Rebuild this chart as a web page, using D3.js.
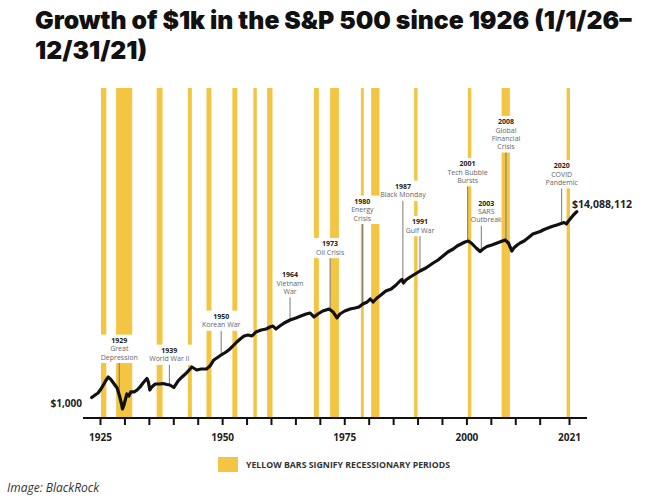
<!DOCTYPE html>
<html>
<head>
<meta charset="utf-8">
<script src="https://cdn.jsdelivr.net/npm/d3@7"></script>
<style>
  body { margin: 0; background: #fff; }
  svg { display: block; }
</style>
</head>
<body>
<svg id="chart"></svg>
<script>
// Growth of $1k in the S&P 500 (log scale)
const years = [
  1923.3, 1924.0, 1924.6, 1925.2, 1925.8, 1926.2, 1926.7, 1927.3, 1927.9, 1928.5,
  1929.0, 1929.4, 1929.6, 1929.9, 1930.5, 1930.9, 1931.3, 1932.0, 1932.6, 1933.2,
  1933.8, 1934.6, 1934.9, 1935.2, 1935.6, 1936.3, 1937.1, 1937.9, 1938.7, 1939.3,
  1940.1, 1941.0, 1941.8, 1942.7, 1943.8, 1944.8, 1945.7, 1946.8, 1947.5, 1948.3,
  1949.2, 1949.8, 1950.8, 1951.6, 1952.4, 1953.0, 1953.7, 1954.5, 1955.3, 1956.1,
  1956.9, 1958.0, 1959.0, 1959.8, 1960.4, 1961.0, 1961.8, 1962.7, 1963.9, 1965.1,
  1966.1, 1967.2, 1968.0, 1968.8, 1969.6, 1970.6, 1971.9, 1972.7, 1973.5, 1974.1,
  1975.1, 1976.2, 1977.2, 1978.0, 1978.8, 1979.7, 1980.3, 1980.9, 1981.7, 1982.5,
  1983.5, 1984.6, 1985.6, 1986.4, 1986.8, 1987.1, 1987.6, 1988.5, 1989.5, 1990.5,
  1991.7, 1993.2, 1994.2, 1995.2, 1996.2, 1997.3, 1998.1, 1998.9, 1999.7, 2000.4,
  2001.1, 2002.0, 2002.8, 2003.4, 2004.2, 2005.2, 2006.3, 2007.1, 2007.9, 2008.6,
  2009.3, 2009.7, 2010.4, 2011.0, 2011.8, 2012.6, 2013.6, 2014.5, 2015.1, 2015.9,
  2016.7, 2017.5, 2018.5, 2019.4, 2020.0, 2020.5, 2020.9, 2021.4, 2022.0, 2022.6,
];
const values = [
  1000, 1137, 1260, 1548, 2000, 2400, 2870, 2460, 2000, 1630,
  1080, 716, 554, 680, 1200, 1080, 1330, 1330, 1470, 1720,
  2110, 2660, 2220, 1470, 1720, 2000, 2000, 2050, 1950, 1900,
  1670, 2340, 2870, 3520, 4800, 4110, 4330, 4330, 5050, 6880,
  8030, 8890, 10380, 12110, 14870, 17350, 20250, 23620, 24860, 23620,
  29010, 32160, 33850, 37520, 39500, 33850, 39500, 46090, 53790, 59600,
  66050, 73190, 77060, 62770, 73190, 85420, 94670, 81140, 59600, 73190,
  85420, 94670, 99660, 104900, 122400, 135700, 158300, 135700, 166700, 194500,
  238800, 264800, 325200, 399300, 431400, 360500, 420500, 490700, 572500, 667900,
  779300, 1008000, 1176000, 1444000, 1774000, 2070000, 2415000, 2677000, 2967000, 3123000,
  2747000, 2179000, 1821000, 2070000, 2354000, 2543000, 2818000, 3045000, 3289000, 2818000,
  1867000, 2179000, 2543000, 2818000, 3123000, 3644000, 4477000, 4836000, 5091000, 5641000,
  6094000, 6583000, 7111000, 7682000, 8088000, 7487000, 8735000, 10190000, 12200000, 14088112,
];

// recessions (yellow bars)
const recessionStarts = [1925.2, 1928.3, 1936.6, 1943.0, 1946.8, 1952.1, 1956.4, 1959.2, 1968.8, 1972.1, 1978.4, 1980.5, 1989.3, 2000.3, 2007.2, 2020.5];
const recessionEnds = [1926.3, 1931.6, 1937.8, 1943.8, 1947.8, 1953.1, 1957.1, 1960.3, 1969.8, 1973.9, 1979.0, 1982.2, 1990.0, 2001.0, 2008.9, 2021.2];

// events
const eventYears = [1928.95, 1939.2, 1949.8, 1963.9, 1972.1, 1978.7, 1987.0, 1990.5, 2000.25, 2003.05, 2008.1, 2019.5];
const eventTexts = [
  ['1929', 'Great', 'Depression'],
  ['1939', 'World War II'],
  ['1950', 'Korean War'],
  ['1964', 'Vietnam', 'War'],
  ['1973', 'Oil Crisis'],
  ['1980', 'Energy', 'Crisis'],
  ['1987', 'Black Monday'],
  ['1991', 'Gulf War'],
  ['2001', 'Tech Bubble', 'Bursts'],
  ['2003', 'SARS', 'Outbreak'],
  ['2008', 'Global', 'Financial', 'Crisis'],
  ['2020', 'COVID', 'Pandemic'],
];

const tickYears = [1925, 1930, 1935, 1940, 1945, 1950, 1955, 1960, 1965, 1970, 1975, 1980, 1985, 1990, 1995, 2000, 2005, 2010, 2015, 2021];
const tickLabels = ['1925', '1950', '1975', '2000', '2021'];

const titleLines = ['Growth of $1k in the S&P 500 since 1926 (1/1/26\u2013', '12/31/21)'];
const startLabel = '$1,000';
const endLabel = '$14,088,112';
const legendText = 'YELLOW BARS SIGNIFY RECESSIONARY PERIODS';
const creditText = 'Image: BlackRock';

// layout
const width = 648;
const height = 500;
const axisY = 418;
const barTop = 88;
const yellow = '#F4C542';
const labelFont = "'Open Sans', 'Noto Sans', sans-serif";
const titleFont = "Inter, Lato, Roboto, sans-serif";
const labelTopY = [340.7, 350.7, 316.7, 275, 244, 201.7, 186.7, 222, 164, 203.3, 122, 166];
const labelShift = [0, 0, 0, 0, 0, 0, 0, 0, 0, 5, 0, 0];
const lineGap = 8.2;

const svg = d3.select('#chart').attr('width', width).attr('height', height);
svg.selectAll('*').remove();
svg.append('rect').attr('width', width).attr('height', height).attr('fill', '#fff');

const x = d3.scaleLinear().domain([1925, 2021]).range([100, 569]);
const y = d3.scaleLog().domain([values[0], values[values.length - 1]]).range([397.5, 211.7]);

const data = years.map((yr, i) => ({ year: yr, value: values[i] }));

// value on the curve at a given year (log interpolation)
const bisect = d3.bisector((d) => d.year).left;
const valueAt = (yr) => {
  const i = Math.max(1, Math.min(data.length - 1, bisect(data, yr)));
  const a = data[i - 1];
  const b = data[i];
  const t = (yr - a.year) / (b.year - a.year);
  return Math.exp(Math.log(a.value) + t * (Math.log(b.value) - Math.log(a.value)));
};

// Title, scaled to fit the reference width
const title = svg.append('text')
  .attr('font-family', titleFont)
  .attr('font-weight', 900)
  .attr('font-size', 22)
  .attr('fill', '#111');
title.append('tspan').attr('x', 35).attr('y', 29).text(titleLines[0]);
title.append('tspan').attr('x', 35).attr('y', 59).text(titleLines[1]);
const tw = title.select('tspan').node().getComputedTextLength();
title.attr('font-size', (22 * 597) / tw);

// layer order
const barGroup = svg.append('g');
const leaderGroup = svg.append('g');
const lineGroup = svg.append('g');
const labelGroup = svg.append('g');

// Event labels first, so their boxes can cut the bars
const boxes = [];
eventTexts.forEach((lines, i) => {
  const cx = x(eventYears[i]) + labelShift[i];
  const t = labelGroup.append('text')
    .attr('text-anchor', 'middle')
    .attr('font-family', labelFont)
    .attr('font-size', 7);
  lines.forEach((s, j) => {
    t.append('tspan')
      .attr('x', cx)
      .attr('y', labelTopY[i] + j * lineGap)
      .attr('dy', '0.35em')
      .attr('font-weight', j === 0 ? 700 : 400)
      .attr('fill', j === 0 ? '#222' : '#666')
      .text(s);
  });
  const bb = t.node().getBBox();
  boxes.push(bb);

  // leader line down to the curve
  leaderGroup.append('line')
    .attr('x1', x(eventYears[i]))
    .attr('x2', x(eventYears[i]))
    .attr('y1', bb.y + bb.height + 1.5)
    .attr('y2', y(valueAt(eventYears[i])))
    .attr('stroke', '#7a7a7a')
    .attr('stroke-width', 1);
});

// Recession bars, broken where a label crosses them
recessionStarts.forEach((s, i) => {
  const x0 = x(s);
  const x1 = x(recessionEnds[i]);
  const gaps = boxes
    .filter((b) => b.x < x1 - 1 && b.x + b.width > x0 + 1)
    .map((b) => [b.y - 1.5, b.y + b.height + 1.5])
    .sort((a, b) => a[0] - b[0]);
  let top = barTop;
  const segs = [];
  gaps.forEach(([g0, g1]) => {
    if (g0 > top) segs.push([top, g0]);
    top = Math.max(top, g1);
  });
  if (top < axisY) segs.push([top, axisY]);
  barGroup.selectAll(null)
    .data(segs)
    .join('rect')
    .attr('x', x0)
    .attr('width', x1 - x0)
    .attr('y', (d) => d[0])
    .attr('height', (d) => d[1] - d[0])
    .attr('fill', yellow);
});

// Growth line
lineGroup.append('path')
  .datum(data)
  .attr('d', d3.line().x((d) => x(d.year)).y((d) => y(d.value)))
  .attr('fill', 'none')
  .attr('stroke', '#111')
  .attr('stroke-width', 3.2)
  .attr('stroke-linejoin', 'round')
  .attr('stroke-linecap', 'round');

// start / end labels
svg.append('text')
  .attr('x', 82)
  .attr('y', y(values[0]) + 5.5)
  .attr('dy', '0.35em')
  .attr('text-anchor', 'end')
  .attr('font-family', labelFont)
  .attr('font-weight', 700)
  .attr('font-size', 10)
  .attr('fill', '#222')
  .text(startLabel);

svg.append('text')
  .attr('x', 572)
  .attr('y', y(values[values.length - 1]) - 7.5)
  .attr('dy', '0.35em')
  .attr('font-family', labelFont)
  .attr('font-weight', 700)
  .attr('font-size', 10.5)
  .attr('fill', '#222')
  .text(endLabel);

// X axis
const axis = svg.append('g')
  .attr('transform', `translate(0,${axisY})`)
  .call(
    d3.axisBottom(x)
      .tickValues(tickYears)
      .tickSize(7)
      .tickSizeOuter(0)
      .tickPadding(9)
      .tickFormat((d) => (tickLabels.includes(String(d)) ? String(d) : '')),
  );
axis.select('.domain').remove();
axis.selectAll('.tick line').attr('stroke', '#111').attr('stroke-width', 2);
axis.selectAll('.tick text')
  .attr('font-family', labelFont)
  .attr('font-weight', 700)
  .attr('font-size', 10)
  .attr('fill', '#222');
svg.append('line')
  .attr('x1', x.range()[0] - 17)
  .attr('x2', x.range()[1] + 18)
  .attr('y1', axisY)
  .attr('y2', axisY)
  .attr('stroke', '#111')
  .attr('stroke-width', 2);

// Legend
svg.append('rect')
  .attr('x', 218).attr('y', 457)
  .attr('width', 20).attr('height', 15)
  .attr('fill', yellow);
const legend = svg.append('text')
  .attr('x', 246)
  .attr('y', 464.5)
  .attr('dy', '0.35em')
  .attr('font-family', labelFont)
  .attr('font-weight', 700)
  .attr('font-size', 7)
  .attr('fill', '#333')
  .text(legendText);
const lw = legend.node().getComputedTextLength();
legend.attr('font-size', (7 * 204) / lw);

// Credit
svg.append('text')
  .attr('x', 7)
  .attr('y', 488)
  .attr('dy', '0.35em')
  .attr('font-family', labelFont)
  .attr('font-style', 'italic')
  .attr('font-size', 12)
  .attr('fill', '#333')
  .text(creditText);
</script>
</body>
</html>
